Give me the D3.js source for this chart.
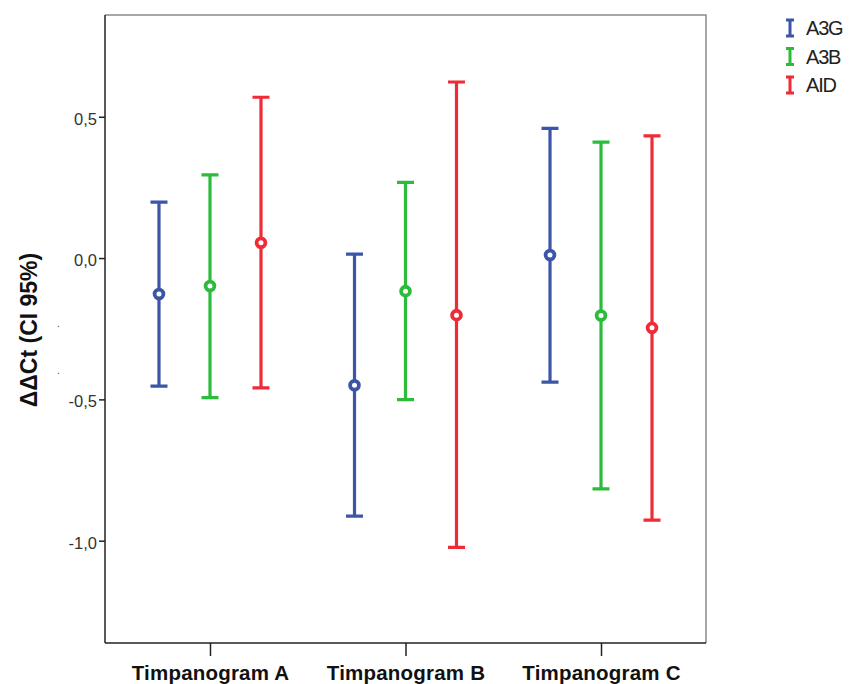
<!DOCTYPE html>
<html>
<head>
<meta charset="utf-8">
<script src="https://cdn.jsdelivr.net/npm/d3@7"></script>
<style>
  body { margin: 0; background: #fff; }
  svg { display: block; font-family: "Liberation Sans", Arial, sans-serif; }
  .y-axis text { font-size: 16.5px; fill: #333; }
  .x-axis text { font-size: 20.5px; font-weight: bold; fill: #111; letter-spacing: 0.2px; }
  .axis path, .axis line { stroke: #222; stroke-width: 1.5; }
</style>
</head>
<body>
<svg id="chart" width="851" height="684"></svg>
<script>
const groups = ["Timpanogram A", "Timpanogram B", "Timpanogram C"];
const series = ["A3G", "A3B", "AID"];
const colors = ["#3b55a8", "#2dbb3c", "#ee2b36"];

// mean and 95% CI per series, in group order
const means = {
  A3G: [-0.127, -0.450, 0.011],
  A3B: [-0.099, -0.117, -0.203],
  AID: [0.054, -0.202, -0.247]
};
const lower = {
  A3G: [-0.453, -0.913, -0.439],
  A3B: [-0.494, -0.501, -0.817],
  AID: [-0.459, -1.024, -0.927]
};
const upper = {
  A3G: [0.198, 0.014, 0.459],
  A3B: [0.294, 0.268, 0.410],
  AID: [0.569, 0.623, 0.432]
};
const yTicks = [0.5, 0, -0.5, -1.0];

const plotLeft = 105, plotRight = 706, plotTop = 15, plotBottom = 643;

const svg = d3.select("#chart");

const x = d3.scalePoint().domain(groups).range([plotLeft, plotRight]).padding(0.537);
const xs = d3.scalePoint().domain(series).range([-51, 51]);
const y = d3.scaleLinear().domain([-1.362, 0.86]).range([plotBottom, plotTop]);

const locale = d3.formatLocale({ decimal: ",", thousands: ".", grouping: [3], currency: ["", ""], minus: "-" });
const fmt = locale.format(".1f");

// frame: top and right in grey
svg.append("path")
  .attr("d", `M${plotLeft},${plotTop}H${plotRight}V${plotBottom}`)
  .attr("fill", "none")
  .attr("stroke", "#8a8a8a")
  .attr("stroke-width", 1.5);

svg.append("g")
  .attr("class", "axis y-axis")
  .attr("transform", `translate(${plotLeft},0)`)
  .call(d3.axisLeft(y).tickValues(yTicks).tickFormat(fmt).tickSize(6).tickPadding(2).tickSizeOuter(0))
  .call(g => g.select(".domain").attr("d", `M0,${plotTop}V${plotBottom}`))
  .call(g => g.selectAll(".tick text").attr("dy", "0.45em"));

svg.append("g")
  .attr("class", "axis x-axis")
  .attr("transform", `translate(0,${plotBottom})`)
  .call(d3.axisBottom(x).tickSize(13).tickPadding(9).tickSizeOuter(0))
  .call(g => g.select(".domain").attr("d", `M${plotLeft},0H${plotRight}`));

// y axis title
svg.append("text")
  .attr("transform", "translate(37,330) rotate(-90)")
  .attr("text-anchor", "middle")
  .style("font-size", "23px")
  .style("font-weight", "bold")
  .attr("fill", "#111")
  .text("ΔΔCt (CI 95%)");

// stray dots beside the title
svg.selectAll(".dot")
  .data([327, 374])
  .join("text")
  .attr("x", 57)
  .attr("y", d => d)
  .style("font-size", "10px")
  .attr("fill", "#444")
  .text(".");

const cap = 8.5;
series.forEach((s, si) => {
  const g = svg.append("g").attr("stroke", colors[si]).attr("stroke-width", 3.2).attr("fill", "none");
  const rows = groups.map((grp, gi) => ({
    cx: x(grp) + xs(s),
    lo: lower[s][gi],
    hi: upper[s][gi],
    m: means[s][gi]
  }));
  g.selectAll(".ci")
    .data(rows)
    .join("path")
    .attr("d", d => `M${d.cx},${y(d.hi)}V${y(d.lo)}M${d.cx - cap},${y(d.hi)}H${d.cx + cap}M${d.cx - cap},${y(d.lo)}H${d.cx + cap}`);
  g.selectAll(".mean")
    .data(rows)
    .join("circle")
    .attr("cx", d => d.cx)
    .attr("cy", d => y(d.m))
    .attr("r", 4.4)
    .attr("stroke-width", 3.8)
    .attr("fill", "#fff");
});

// legend
const legend = svg.append("g").attr("transform", "translate(790,28)");
series.forEach((s, i) => {
  const row = legend.append("g").attr("transform", `translate(0,${i * 28.5})`);
  row.append("path")
    .attr("d", "M-4,-8H4M0,-8V8M-4,8H4")
    .attr("stroke", colors[i])
    .attr("stroke-width", 3)
    .attr("fill", "none");
  row.append("text")
    .attr("x", 16)
    .attr("y", 7)
    .style("font-size", "20px")
    .style("letter-spacing", "-1.2px")
    .attr("fill", "#222")
    .text(s);
});
</script>
</body>
</html>
